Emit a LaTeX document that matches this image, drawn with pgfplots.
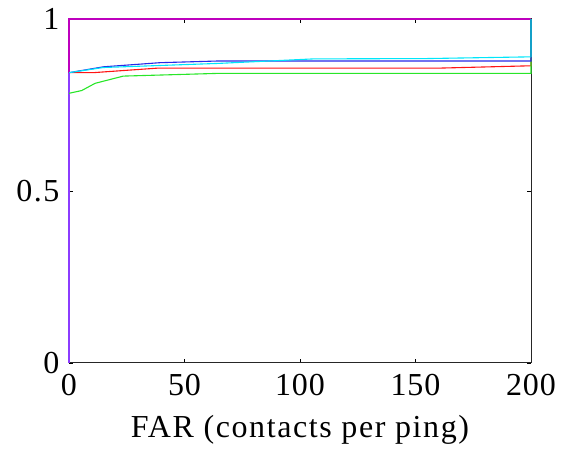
\documentclass[border=0pt]{standalone}
\usepackage{pgfplots}
\pgfplotsset{compat=1.18}
\usepackage{fontspec}
\setmainfont{Liberation Serif}
\definecolor{mag}{RGB}{190,0,190}
\definecolor{vio}{RGB}{140,60,255}
\definecolor{myred}{RGB}{255,20,20}
\definecolor{mygreen}{RGB}{40,230,40}
\definecolor{myblue}{RGB}{40,40,230}
\definecolor{mycyan}{RGB}{0,230,250}
\definecolor{teal2}{RGB}{20,160,200}
\begin{document}
\begin{tikzpicture}
\path[use as bounding box] (-69pt,-89pt) rectangle (499pt,363pt);
\begin{axis}[
  at={(0,0)}, anchor=south west,
  scale only axis, width=462pt, height=344pt,
  xmin=0, xmax=200, ymin=0, ymax=1,
  xtick={0,50,100,150,200}, ytick={0,0.5,1},
  yticklabels={0,0.5,1},
  tick align=inside, major tick length=4pt,
  axis line style={draw=black!85, line width=1pt},
  tick style={black, line width=0.8pt},
  /pgf/number format/assume math mode=true,
  xticklabel style={font=\fontsize{32}{36}\selectfont\addfontfeature{LetterSpace=3}, yshift=-8pt},
  yticklabel style={font=\fontsize{32}{36}\selectfont\addfontfeature{LetterSpace=5}, xshift=-6pt},
  xlabel={\addfontfeature{LetterSpace=5}FAR (contacts per ping)},
  xlabel style={font=\fontsize{32}{36}\selectfont, yshift=-12pt},
  every axis plot/.append style={line width=1.1pt},
  clip=false,
]
\addplot[mag] coordinates {(0,0) (0,1) (200,1)};
\addplot[vio] coordinates {(0,0) (0,0.844)};
\addplot[myred] coordinates {(0,0.844) (10.5,0.844) (38,0.857) (159,0.857) (200,0.864) (200,1)};
\addplot[mygreen] coordinates {(0,0.784) (5.5,0.792) (11.3,0.813) (23.5,0.834) (65,0.842) (200,0.842) (200,1)};
\addplot[myblue] coordinates {(0,0.844) (14.9,0.861) (39.4,0.873) (65,0.878) (200,0.878) (200,1)};
\addplot[mycyan] coordinates {(0,0.844) (14.9,0.859) (65,0.871) (105.8,0.884) (155,0.885) (200,0.89)};
\addplot[teal2] coordinates {(200,0.89) (200,1)};
\end{axis}
\end{tikzpicture}
\end{document}
